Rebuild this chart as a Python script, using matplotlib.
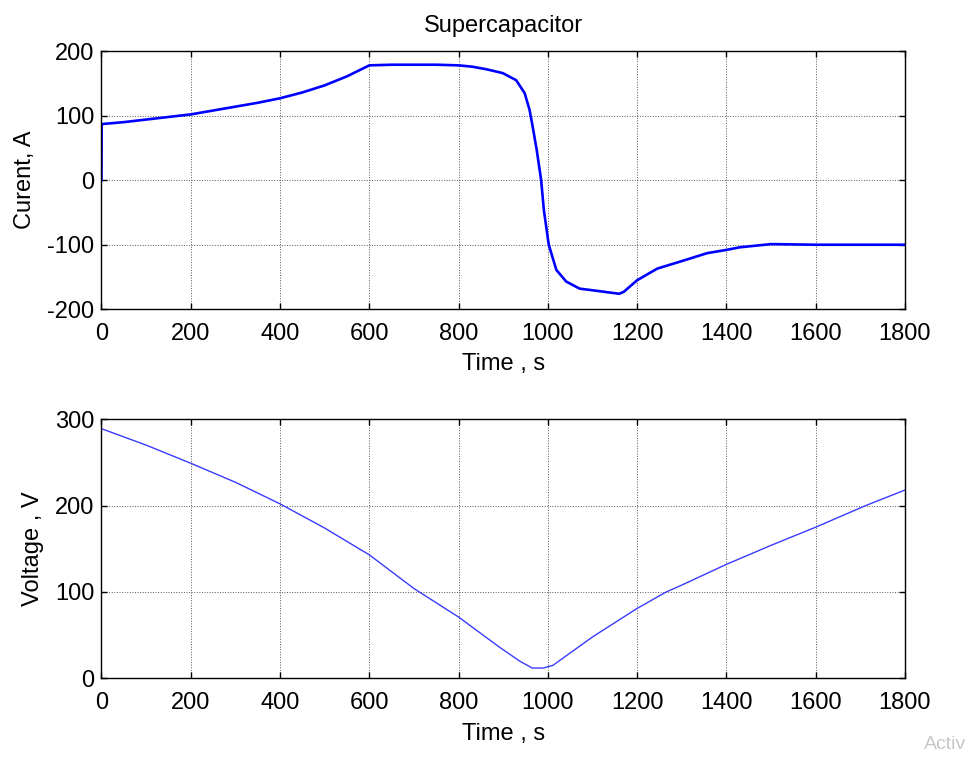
import matplotlib
matplotlib.use('Agg')
import matplotlib.pyplot as plt

plt.rcParams['font.family'] = ['Liberation Sans', 'DejaVu Sans']
plt.rcParams['axes.unicode_minus'] = False

# supercapacitor current (A)
t_current = [0, 0.5, 50, 100, 150, 200, 250, 300, 350, 400, 450, 500, 550, 600,
             650, 700, 750, 800, 830, 862, 899, 929, 948, 959, 966, 975, 985,
             991, 1002, 1019, 1041, 1071, 1116, 1160, 1170, 1200, 1245, 1297,
             1357, 1400, 1430, 1500, 1600, 1700, 1800]
current = [0, 87, 90, 94, 98, 102, 108, 114, 120, 127, 136, 147, 161, 178,
           179, 179, 179, 178, 176, 172, 166, 155, 135, 109, 83, 47, 0,
           -46, -100, -139, -157, -168, -172, -176, -173, -155, -137, -126,
           -113, -108, -104, -99, -100, -100, -100]

# supercapacitor voltage (V)
t_voltage = [0, 100, 200, 300, 400, 500, 600, 700, 800, 892, 937, 965, 990,
             1000, 1011, 1100, 1200, 1265, 1300, 1400, 1500, 1600, 1712, 1800]
voltage = [289, 270, 249, 227, 202, 174, 143, 104, 71, 36, 20, 12, 12,
           13.5, 15, 48, 81, 100, 108, 132, 154, 175, 200, 218]

x_ticks = [0, 200, 400, 600, 800, 1000, 1200, 1400, 1600, 1800]


def style_axes(ax):
    ax.set_xlim(0, 1800)
    ax.set_xticks(x_ticks)
    ax.grid(True, color='#555555', linestyle=':', linewidth=0.7)
    ax.tick_params(direction='in', top=True, right=True, length=4,
                   width=1, labelsize=17, pad=5)
    ax.tick_params(axis='x', pad=10)
    for s in ax.spines.values():
        s.set_linewidth(1.0)


fig = plt.figure(figsize=(9.71, 7.58), dpi=100)

ax1 = fig.add_axes([0.1045, 0.592, 0.8275, 0.3405])
ax1.plot(t_current, current, color='#0000ff', linewidth=1.9)
style_axes(ax1)
ax1.set_ylim(-200, 200)
ax1.set_yticks([-200, -100, 0, 100, 200])
ax1.set_title('Supercapacitor', fontsize=17, pad=14)
ax1.set_xlabel('Time , s', fontsize=17, labelpad=6)
ax1.set_ylabel('Curent, A', fontsize=17, labelpad=8)

ax2 = fig.add_axes([0.1045, 0.105, 0.8275, 0.342])
ax2.plot(t_voltage, voltage, color='#3a3aff', linewidth=1.0)
style_axes(ax2)
ax2.set_ylim(0, 300)
ax2.set_yticks([0, 100, 200, 300])
ax2.set_xlabel('Time , s', fontsize=17, labelpad=6)
ax2.set_ylabel('Voltage , V', fontsize=17, labelpad=8)

fig.text(0.952, 0.012, 'Activ', color='#c8c8c8', fontsize=14)

plt.savefig('out.png', dpi=100)
plt.close()
